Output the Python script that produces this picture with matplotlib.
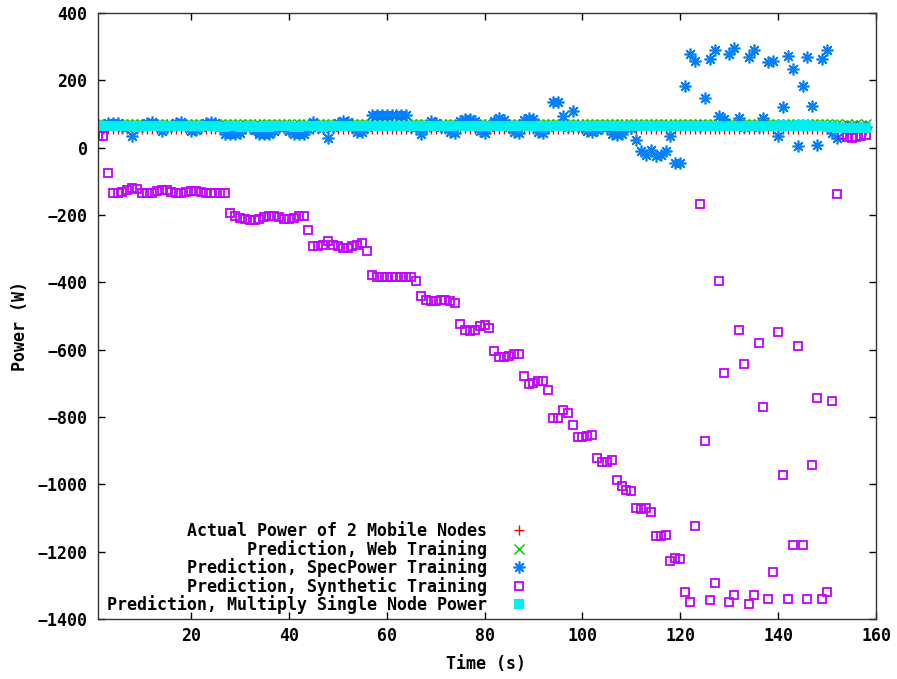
import matplotlib
matplotlib.use("Agg")
import matplotlib.pyplot as plt

# ---------------- data ----------------
time_s = list(range(1, 159))

actual_power = [
    54, 55, 55, 56, 54, 55, 56, 55, 54, 55,
    56, 55, 54, 55, 56, 55, 55, 54, 56, 55,
    55, 56, 54, 55, 55, 56, 55, 54, 55, 56,
    55, 55, 54, 56, 55, 55, 56, 54, 55, 55,
    56, 55, 54, 55, 56, 55, 55, 54, 56, 55,
    55, 56, 55, 54, 55, 56, 55, 55, 54, 56,
    55, 55, 56, 54, 55, 55, 56, 55, 54, 55,
    56, 55, 55, 54, 56, 58, 55, 54, 55, 56,
    55, 55, 54, 56, 55, 55, 56, 54, 55, 55,
    56, 55, 54, 55, 56, 55, 55, 54, 56, 55,
    55, 56, 54, 55, 55, 56, 55, 54, 55, 56,
    55, 55, 54, 56, 55, 55, 56, 54, 55, 55,
    56, 55, 54, 55, 56, 55, 55, 54, 56, 55,
    55, 56, 55, 54, 55, 56, 55, 55, 54, 56,
    55, 55, 56, 54, 55, 55, 56, 55, 54, 55,
    54, 53, 54, 53, 54, 53, 54, 53,
]

web_pred = [
    70, 71, 70, 71, 71, 70, 71, 70, 71, 71,
    70, 71, 71, 70, 71, 70, 71, 71, 70, 71,
    71, 70, 71, 70, 71, 71, 70, 71, 70, 71,
    71, 70, 71, 71, 70, 71, 70, 71, 71, 70,
    71, 70, 71, 71, 70, 71, 70, 71, 71, 70,
    71, 71, 70, 71, 70, 71, 71, 70, 71, 70,
    71, 71, 70, 71, 70, 71, 71, 70, 71, 70,
    71, 71, 70, 71, 70, 71, 71, 70, 71, 70,
    71, 71, 70, 71, 70, 71, 71, 70, 71, 70,
    71, 71, 70, 71, 70, 71, 71, 70, 71, 70,
    71, 71, 70, 71, 70, 71, 71, 70, 71, 70,
    71, 71, 70, 71, 70, 71, 71, 70, 71, 70,
    71, 71, 70, 71, 70, 71, 71, 70, 71, 70,
    71, 71, 70, 71, 70, 71, 71, 70, 71, 70,
    71, 71, 70, 71, 70, 71, 71, 70, 71, 70,
    69, 69, 68, 69, 68, 69, 68, 69,
]

specpower_pred = [
    62, 60, 72, 74, 72, 62, 60, 34, 60, 65,
    74, 75, 66, 49, 60, 65, 74, 75, 64, 50,
    52, 62, 74, 75, 72, 60, 42, 40, 42, 45,
    60, 62, 52, 40, 40, 42, 50, 60, 62, 50,
    40, 40, 42, 55, 76, 62, 58, 30, 60, 72,
    78, 76, 62, 48, 46, 62, 97, 96, 97, 96,
    97, 96, 97, 96, 62, 60, 40, 62, 78, 74,
    62, 60, 48, 45, 80, 85, 85, 80, 50, 44,
    60, 80, 88, 82, 62, 46, 44, 82, 88, 86,
    48, 44, 62, 135, 137, 93, 62, 108, 65, 60,
    50, 48, 52, 62, 60, 40, 38, 40, 60, 58,
    24, -11, -21, -6, -26, -21, -11, 34, -45, -45,
    182, 278, 256, 65, 149, 263, 291, 95, 85, 278,
    296, 88, 62, 269, 291, 62, 88, 254, 258, 36,
    120, 273, 234, 6, 184, 269, 125, 9, 263, 291,
    44, 29, 58, 60, 58, 60, 58, 60,
]

synthetic_pred = [
    35, 35, -75, -135, -135, -132, -127, -120, -122, -135,
    -135, -135, -130, -125, -125, -132, -135, -135, -132, -130,
    -130, -132, -135, -135, -135, -135, -135, -194, -204, -209,
    -212, -214, -214, -212, -206, -202, -202, -206, -212, -212,
    -209, -202, -203, -245, -293, -293, -288, -278, -288, -293,
    -298, -298, -291, -288, -283, -308, -377, -384, -384, -384,
    -384, -384, -384, -384, -384, -397, -442, -451, -456, -456,
    -451, -451, -456, -461, -524, -541, -546, -541, -531, -526,
    -536, -605, -622, -622, -618, -612, -612, -679, -703, -700,
    -694, -694, -719, -803, -803, -778, -788, -823, -858, -858,
    -855, -852, -922, -935, -935, -927, -986, -1006, -1016, -1021,
    -1070, -1073, -1070, -1083, -1152, -1152, -1150, -1229, -1220, -1221,
    -1321, -1350, -1125, -167, -872, -1345, -1294, -397, -669, -1350,
    -1328, -541, -643, -1354, -1328, -579, -770, -1340, -1261, -549,
    -973, -1340, -1181, -588, -1181, -1340, -944, -745, -1340, -1321,
    -752, -139, 38, 33, 30, 33, 35, 38,
]

multiply_pred = [
    63, 64, 63, 64, 64, 63, 64, 63, 62, 63,
    64, 64, 63, 63, 64, 63, 64, 64, 63, 63,
    64, 63, 64, 64, 63, 62, 62, 63, 63, 62,
    62, 63, 62, 62, 63, 62, 63, 63, 64, 63,
    62, 62, 63, 63, 64, 63, 62, 63, 64, 63,
    63, 64, 63, 63, 64, 63, 64, 64, 63, 64,
    63, 63, 64, 63, 63, 64, 63, 64, 63, 63,
    64, 63, 63, 64, 63, 64, 64, 63, 63, 64,
    63, 63, 64, 63, 63, 64, 63, 64, 63, 63,
    64, 63, 63, 64, 63, 64, 64, 63, 63, 64,
    63, 63, 64, 63, 63, 64, 63, 64, 63, 63,
    64, 63, 63, 64, 63, 64, 64, 63, 63, 64,
    63, 63, 64, 63, 63, 64, 63, 64, 63, 63,
    64, 63, 63, 64, 63, 64, 64, 63, 65, 65,
    66, 65, 65, 66, 65, 66, 65, 64, 63, 62,
    60, 59, 58, 58, 57, 58, 57, 57,
]

series_labels = [
    "Actual Power of 2 Mobile Nodes",
    "Prediction, Web Training",
    "Prediction, SpecPower Training",
    "Prediction, Synthetic Training",
    "Prediction, Multiply Single Node Power",
]
x_ticks = [20, 40, 60, 80, 100, 120, 140, 160]
y_ticks = [-1400, -1200, -1000, -800, -600, -400, -200, 0, 200, 400]

# ---------------- style ----------------
FONT = ["DejaVu Sans Mono"]
FS = 12
plt.rcParams["font.family"] = FONT
plt.rcParams["font.weight"] = "bold"

RED = "#ff0000"
GREEN = "#00c000"
BLUE = "#0080ff"
MAGENTA = "#c000ff"
CYAN = "#00eeee"

fig = plt.figure(figsize=(8.97, 6.79), dpi=100)
ax = fig.add_axes([98 / 897, 1 - 619 / 679, (876 - 98) / 897, (619 - 13) / 679])

ax.plot(time_s, actual_power, linestyle="none", marker="+", ms=7, mew=1.0,
        color=RED, label=series_labels[0])
ax.plot(time_s, web_pred, linestyle="none", marker="x", ms=6.5, mew=1.0,
        color=GREEN, label=series_labels[1])
ax.plot(time_s, specpower_pred, linestyle="none", marker=(8, 2, 0), ms=8.5, mew=1.2,
        color=BLUE, label=series_labels[2])
ax.plot(time_s, synthetic_pred, linestyle="none", marker="s", ms=6.3, mew=1.3,
        mfc="none", mec=MAGENTA, label=series_labels[3])
ax.plot(time_s, multiply_pred, linestyle="none", marker="s", ms=7.3, mew=0,
        color=CYAN, label=series_labels[4])

ax.set_xlim(1, 160)
ax.set_ylim(-1400, 400)
ax.set_xticks(x_ticks)
ax.set_yticks(y_ticks)
ax.tick_params(direction="in", length=5, width=1, top=True, right=True,
               labelsize=FS, colors="black")
ax.tick_params(axis="y", pad=7.5)
ax.tick_params(axis="x", pad=6)
for lab in ax.get_xticklabels() + ax.get_yticklabels():
    lab.set_fontweight("bold")
for sp in ax.spines.values():
    sp.set_linewidth(1.0)
    sp.set_color("#333333")

fig.text(20 / 897, 1 - 326 / 679, "Power (W)", rotation=90, ha="center", va="center",
         fontsize=FS, fontweight="bold", family=FONT)
fig.text(486 / 897, 1 - 664 / 679, "Time (s)", ha="center", va="center",
         fontsize=FS, fontweight="bold", family=FONT)

leg = ax.legend(loc="lower right", bbox_to_anchor=((527 - 98) / 778, 5 / 606),
                markerfirst=False, frameon=False,
                handlelength=1.0, handletextpad=1.4, labelspacing=-0.03,
                borderpad=0, borderaxespad=0,
                prop={"family": FONT, "weight": "bold", "size": FS})

fig.savefig("out.png", dpi=100)
